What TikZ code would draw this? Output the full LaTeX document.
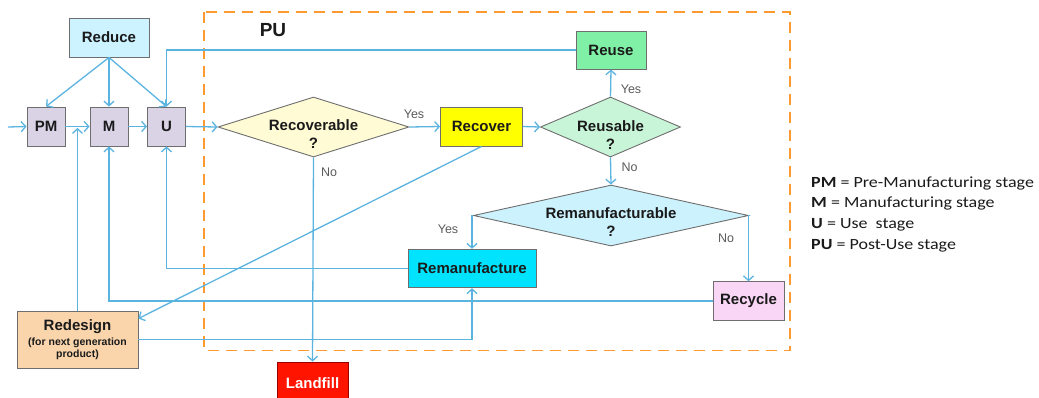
\documentclass[tikz,border=0pt]{standalone}
\usepackage{fontspec}
\setmainfont{Liberation Sans}
\newfontfamily\legfont{Carlito}
\usetikzlibrary{arrows.meta,shapes.geometric}
\definecolor{lineblue}{HTML}{5BB3DF}
\definecolor{dashorange}{HTML}{FF9A33}
\definecolor{bordergray}{HTML}{6E6E6E}
\definecolor{txt}{HTML}{1A1A1A}
\definecolor{lbl}{HTML}{5A5A5A}
\definecolor{reducefill}{HTML}{CCF3FF}
\definecolor{stagefill}{HTML}{DAD3E5}
\definecolor{recovfill}{HTML}{FFFBD5}
\definecolor{yellowfill}{HTML}{FFFF00}
\definecolor{reusablefill}{HTML}{C8F5D8}
\definecolor{reusefill}{HTML}{80F0A6}
\definecolor{remanqfill}{HTML}{CCF2FD}
\definecolor{remanfill}{HTML}{00E3FF}
\definecolor{recyclefill}{HTML}{F9D6F6}
\definecolor{redesignfill}{HTML}{FAD5AC}
\definecolor{landfillfill}{HTML}{FF1400}
\tikzset{
  box/.style={draw=bordergray, line width=0.9pt, rectangle, inner sep=0pt,
    font=\fontsize{15}{18}\selectfont\bfseries, text=txt, align=center},
  dia/.style={draw=bordergray, line width=0.9pt, diamond, inner sep=0pt},
  diatext/.style={font=\fontsize{15}{18}\selectfont\bfseries, text=txt, align=center, inner sep=0pt},
  conn/.style={draw=lineblue, line width=1.3pt},
  arr/.style={conn, -{Straight Barb[length=4.5pt,width=10pt,line width=1.3pt]}},
  yn/.style={font=\fontsize{12.5}{14}\selectfont, text=lbl, inner sep=0pt},
  leg/.style={font=\legfont\fontsize{15.5}{18}\selectfont, text=txt, anchor=base west, inner sep=0pt, xscale=1.16, transform shape}
}
\begin{document}
\begin{tikzpicture}[x=1pt,y=-1pt]
\useasboundingbox (0,0) rectangle (1039,397);
% PU boundary
\draw[dashorange, line width=1.8pt, dash pattern=on 11pt off 7pt] (204,12) rectangle (790,350.5);
\node[font=\fontsize{19}{22}\selectfont\bfseries, text=txt] (pu) at (273,30) {PU};
% nodes
\node[box, fill=reducefill, minimum width=80pt, minimum height=39pt] (reduce) at (109,37.5) {Reduce};
\node[box, fill=stagefill, minimum width=38pt, minimum height=39pt] (pm) at (46,126.5) {PM};
\node[box, fill=stagefill, minimum width=38pt, minimum height=39pt] (m) at (109,126.5) {M};
\node[box, fill=stagefill, minimum width=38pt, minimum height=39pt] (u) at (166.5,126.5) {U};
\node[dia, fill=recovfill, minimum width=191pt, minimum height=60pt] (recoverable) at (313.5,127) {};
\node[diatext] (recoverabletext) at (313.5,134) {Recoverable\\?};
\node[box, fill=yellowfill, minimum width=82pt, minimum height=39pt] (recover) at (481.5,126.5) {Recover};
\node[dia, fill=reusablefill, minimum width=140pt, minimum height=60pt] (reusable) at (610.5,127) {};
\node[diatext] (reusabletext) at (610.5,135) {Reusable\\?};
\node[box, fill=reusefill, minimum width=70pt, minimum height=38pt] (reuse) at (611,50) {Reuse};
\node[dia, fill=remanqfill, minimum width=275pt, minimum height=61pt] (reman) at (611,215.5) {};
\node[diatext] (remantext) at (611,222) {Remanufacturable\\?};
\node[box, fill=remanfill, minimum width=128pt, minimum height=38.5pt] (remanufacture) at (472,268.5) {Remanufacture};
\node[box, fill=recyclefill, minimum width=71pt, minimum height=38.5pt] (recycle) at (748.5,301) {Recycle};
\node[box, fill=redesignfill, minimum width=121pt, minimum height=57pt] (redesign) at (77.5,339.5) {};
\node[font=\fontsize{15}{18}\selectfont\bfseries, text=txt, inner sep=0pt] (redesigntitle) at (77.5,327) {Redesign};
\node[font=\fontsize{10.5}{12.5}\selectfont\bfseries, text=txt, align=center, inner sep=0pt] (redesignsub) at (77.5,349) {(for next generation\\product)};
\node[box, draw=red!60!black, fill=landfillfill, minimum width=71pt, minimum height=42pt, text=white] (landfill) at (312.5,383) {Landfill};
% connectors
\coordinate (in) at (8,127);
\draw[arr] (in) -- (pm.west);
\draw[arr] (pm.east) -- (m.west);
\draw[arr] (m.east) -- (u.west);
\draw[arr] (u.east) -- (recoverable.west);
\draw[arr] (reduce.south) -- (pm.north);
\draw[arr] (reduce.south) -- (m.north);
\draw[arr] (reduce.south) -- (u.north);
\draw[arr] (reuse.west) -| (u.north);
\draw[arr] (recoverable.east) -- (recover.west);
\draw[arr] (recoverable.south) -- (landfill.north);
\draw[arr] (recover.east) -- (reusable.west);
\draw[arr] (reusable.north) -- (reuse.south);
\draw[arr] (reusable.south) -- (reman.north);
\draw[arr] (reman.west) -| (remanufacture.north);
\draw[arr] (reman.east) -| (recycle.north);
\draw[arr] (remanufacture.west) -| (u.south);
\draw[arr] (recycle.west) -| (m.south);
\coordinate (pmm) at (77.5,128);
\draw[arr] (redesign.north) -- (pmm);
\draw[arr] (recover.south) -- (redesign.19.6);
\draw[arr] (redesign.east) -| (remanufacture.south);
% labels
\node[yn] (y1) at (414,114) {Yes};
\node[yn] (n1) at (329,172) {No};
\node[yn] (y2) at (631,89) {Yes};
\node[yn] (n2) at (629.5,167) {No};
\node[yn] (y3) at (448,229) {Yes};
\node[yn] (n3) at (726,238) {No};
% legend
\node[leg] (l1) at (811,187) {\textbf{PM} = Pre-Manufacturing stage};
\node[leg] (l2) at (811,207) {\textbf{M} = Manufacturing stage};
\node[leg] (l3) at (811,228) {\textbf{U} = Use\ \ stage};
\node[leg] (l4) at (811,249) {\textbf{PU} = Post-Use stage};
\end{tikzpicture}
\end{document}
